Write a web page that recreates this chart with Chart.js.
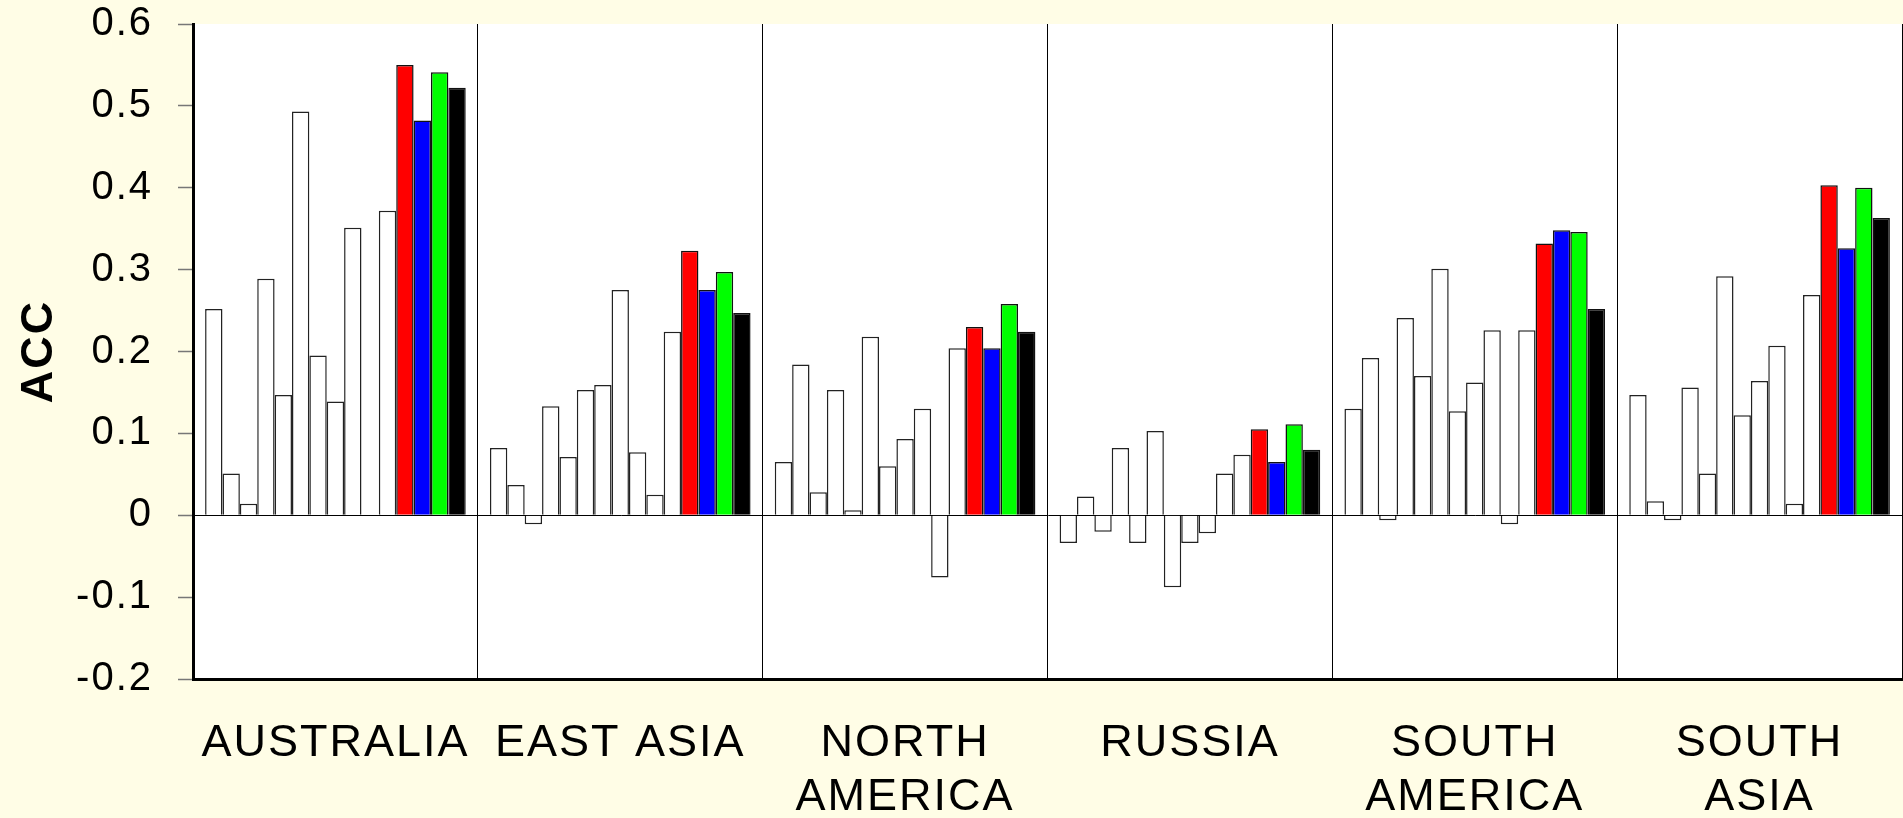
<!DOCTYPE html>
<html>
<head>
<meta charset="utf-8">
<title>ACC by region</title>
<script src="https://cdn.jsdelivr.net/npm/chart.js@4.4.1/dist/chart.umd.min.js"></script>
<style>
  html, body { margin: 0; padding: 0; background: #FFFDE6; }
  #wrap { position: relative; width: 1903px; height: 818px; }
</style>
</head>
<body>
<div id="wrap"><canvas id="accChart"></canvas></div>
<script>
// Regions along the x axis (multi-line labels)
const regions = ['AUSTRALIA', 'EAST ASIA', ['NORTH', 'AMERICA'], 'RUSSIA', ['SOUTH', 'AMERICA'], ['SOUTH', 'ASIA']];

// Individual model scores, one value per region
const model01 = [0.252, 0.082, 0.065, -0.034, 0.130, 0.147];
const model02 = [0.051, 0.037, 0.184, 0.023, 0.192, 0.017];
const model03 = [0.014, -0.011, 0.028, -0.020, -0.006, -0.006];
const model04 = [0.289, 0.133, 0.153, 0.082, 0.241, 0.156];
const model05 = [0.147, 0.071, 0.006, -0.034, 0.170, 0.051];
const model06 = [0.493, 0.153, 0.218, 0.103, 0.301, 0.292];
const model07 = [0.195, 0.159, 0.060, -0.088, 0.127, 0.122];
const model08 = [0.139, 0.275, 0.093, -0.034, 0.162, 0.164];
const model09 = [0.351, 0.077, 0.130, -0.022, 0.226, 0.207];
const model10 = [null, 0.025, -0.076, 0.051, -0.011, 0.014];
const model11 = [0.372, 0.224, 0.204, 0.074, 0.226, 0.269];

// Combined forecasts
const comboRed   = [0.550, 0.323, 0.230, 0.105, 0.332, 0.403];
const comboBlue  = [0.482, 0.275, 0.204, 0.065, 0.348, 0.326];
const comboGreen = [0.541, 0.297, 0.258, 0.111, 0.346, 0.400];
const comboBlack = [0.522, 0.247, 0.224, 0.080, 0.252, 0.363];

// Y axis range and step
const yMin = -0.2;
const yMax = 0.6;
const yStep = 0.1;

const singleModels = [model01, model02, model03, model04, model05, model06,
                      model07, model08, model09, model10, model11];
const combos = [
  { data: comboRed,   color: '#FF0000' },
  { data: comboBlue,  color: '#0000FF' },
  { data: comboGreen, color: '#00FF00' },
  { data: comboBlack, color: '#000000' }
];

const datasets = [];
singleModels.forEach((vals, i) => {
  datasets.push({
    label: 'Model ' + (i + 1),
    data: vals,
    backgroundColor: '#FFFFFF',
    borderColor: '#222222',
    borderWidth: 1.5,
    borderSkipped: 'start'
  });
});
combos.forEach((c, i) => {
  datasets.push({
    label: 'Combined ' + (i + 1),
    data: c.data,
    backgroundColor: c.color,
    borderColor: '#111111',
    borderWidth: 1.5,
    borderSkipped: 'start'
  });
});

// Paints the plot area white and widens glyph spacing
const plotBackground = {
  id: 'plotBackground',
  beforeDraw(chart) {
    const { ctx, chartArea: a } = chart;
    ctx.letterSpacing = '2px';
    ctx.save();
    ctx.fillStyle = '#FFFFFF';
    ctx.fillRect(a.left, a.top, a.right - a.left, a.bottom - a.top);
    ctx.restore();
  },
  beforeUpdate(chart) {
    chart.ctx.letterSpacing = '2px';
  }
};

const FONT = '"Liberation Sans", Arial, sans-serif';

new Chart(document.getElementById('accChart'), {
  type: 'bar',
  data: { labels: regions, datasets },
  plugins: [plotBackground],
  options: {
    responsive: true,
    maintainAspectRatio: false,
    animation: false,
    layout: { padding: { top: 24, right: 1, left: 0, bottom: 0 } },
    datasets: {
      bar: { barPercentage: 1.0, categoryPercentage: 0.915 }
    },
    plugins: {
      legend: { display: false },
      tooltip: { enabled: false }
    },
    scales: {
      x: {
        offset: true,
        grid: {
          offset: true,
          color: '#000000',
          lineWidth: 1,
          drawTicks: false
        },
        border: { display: true, color: '#000000', width: 3 },
        ticks: {
          color: '#000000',
          padding: 38,
          maxRotation: 0,
          autoSkip: false,
          font: { family: FONT, size: 45, lineHeight: 1.2 }
        },
        afterFit(scale) {
          scale.height = 139;
          scale.paddingLeft = 0;
          scale.paddingRight = 0;
        }
      },
      y: {
        min: yMin,
        max: yMax,
        title: {
          display: true,
          text: 'ACC',
          color: '#000000',
          padding: { top: 13, bottom: 0 },
          font: { family: FONT, size: 45, weight: 'bold' }
        },
        grid: {
          drawTicks: true,
          tickLength: 15,
          tickColor: '#777777',
          tickWidth: 1.5,
          lineWidth: 1,
          color: (ctx) => (ctx.tick && Math.abs(ctx.tick.value) < 1e-9) ? '#000000' : 'rgba(0,0,0,0)'
        },
        border: { display: true, color: '#000000', width: 3 },
        ticks: {
          stepSize: yStep,
          color: '#000000',
          padding: 25,
          font: { family: FONT, size: 40 },
          callback: (v) => String(Math.round(v * 10) / 10)
        },
        afterFit(scale) {
          scale.width = 193;
          scale.paddingTop = 0;
          scale.paddingBottom = 0;
        }
      }
    }
  }
});
</script>
</body>
</html>
